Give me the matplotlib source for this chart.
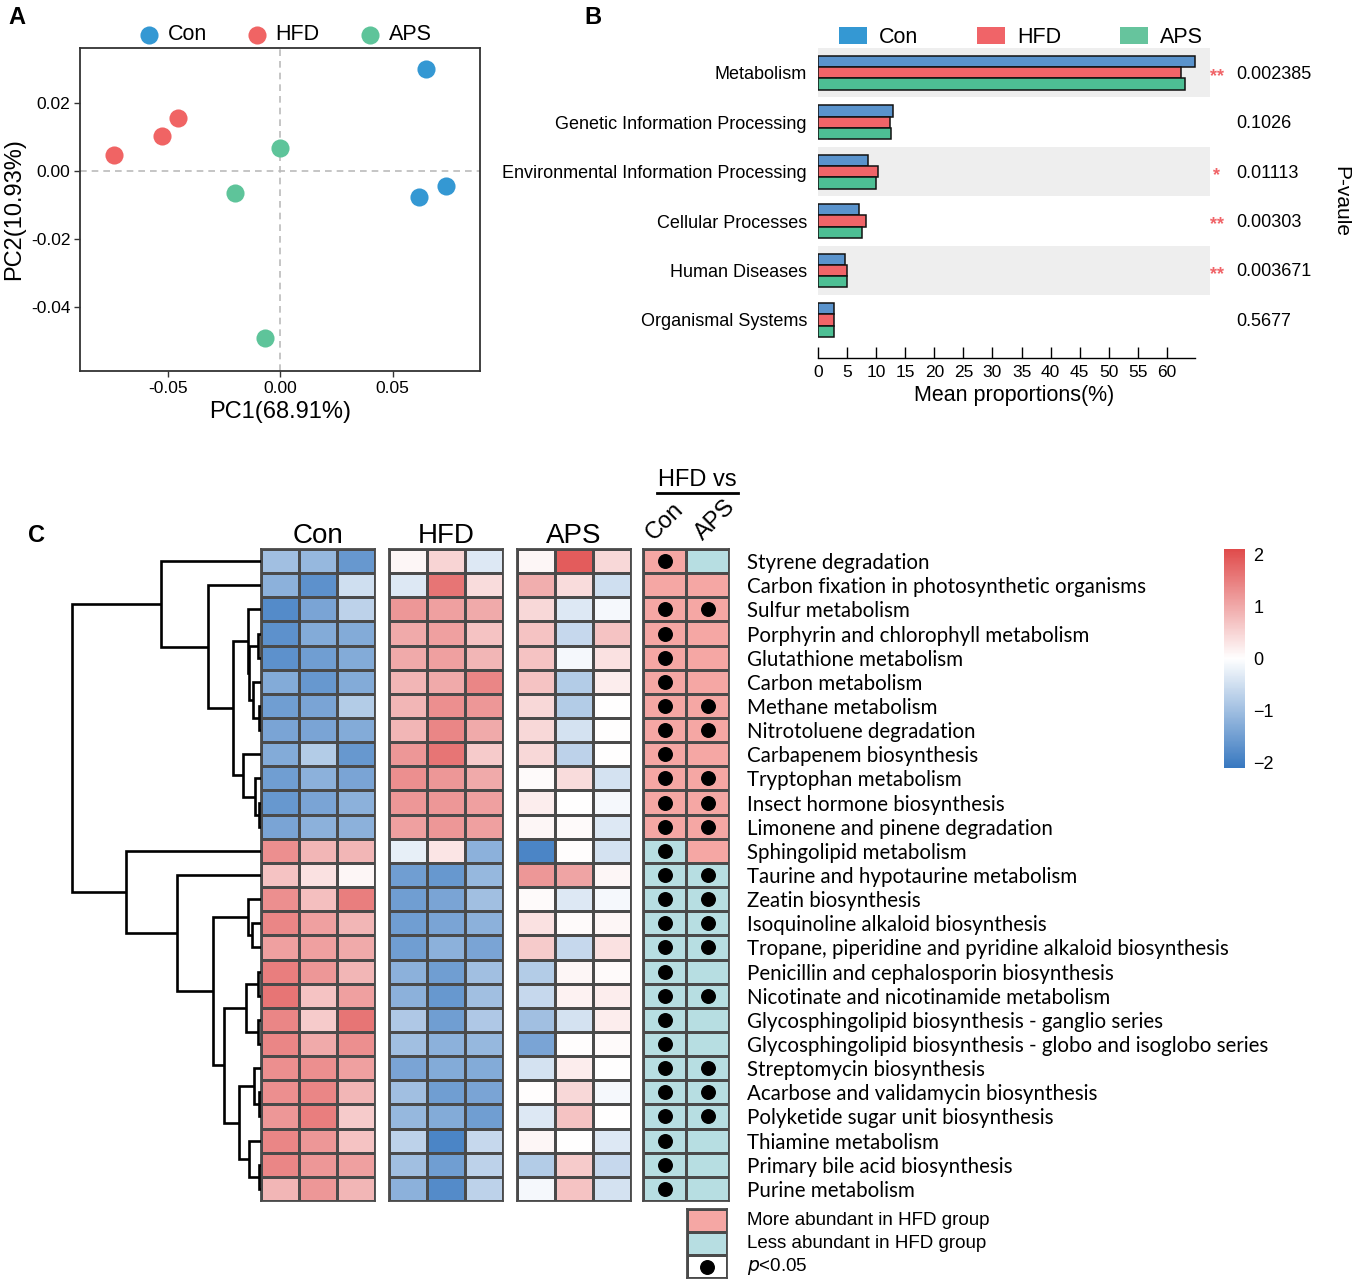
import numpy as np
import matplotlib
matplotlib.use('Agg')
import matplotlib.pyplot as plt
from matplotlib.colors import LinearSegmentedColormap, ListedColormap, Normalize
from matplotlib.cm import ScalarMappable
from matplotlib.patches import Patch

plt.rcParams['font.family'] = ['Liberation Sans', 'DejaVu Sans']

# ---------------- data: panel A (PCA) ----------------
pca_groups = ['Con', 'HFD', 'APS']
pca_colors = ['#3498D3', '#F06464', '#5EC49A']
pc1 = {'Con': [0.0649, 0.0618, 0.0738],
       'HFD': [-0.0738, -0.0524, -0.0453],
       'APS': [0.0000, -0.0200, -0.0067]}
pc2 = {'Con': [0.0300, -0.0076, -0.0044],
       'HFD': [0.0047, 0.0103, 0.0156],
       'APS': [0.0068, -0.0065, -0.0491]}

# ---------------- data: panel B (KEGG level 1) ----------------
kegg_l1 = ['Metabolism', 'Genetic Information Processing',
           'Environmental Information Processing', 'Cellular Processes',
           'Human Diseases', 'Organismal Systems']
mean_con = [64.8, 12.9, 8.6, 7.0, 4.6, 2.7]
mean_hfd = [62.4, 12.4, 10.3, 8.3, 5.0, 2.7]
mean_aps = [63.1, 12.5, 10.0, 7.6, 5.0, 2.7]
p_values = ['0.002385', '0.1026', '0.01113', '0.00303', '0.003671', '0.5677']
p_stars = ['**', '', '*', '**', '**', '']

# ---------------- data: panel C (heatmap) ----------------
pathways = [
    'Styrene degradation',
    'Carbon fixation in photosynthetic organisms',
    'Sulfur metabolism',
    'Porphyrin and chlorophyll metabolism',
    'Glutathione metabolism',
    'Carbon metabolism',
    'Methane metabolism',
    'Nitrotoluene degradation',
    'Carbapenem biosynthesis',
    'Tryptophan metabolism',
    'Insect hormone biosynthesis',
    'Limonene and pinene degradation',
    'Sphingolipid metabolism',
    'Taurine and hypotaurine metabolism',
    'Zeatin biosynthesis',
    'Isoquinoline alkaloid biosynthesis',
    'Tropane, piperidine and pyridine alkaloid biosynthesis',
    'Penicillin and cephalosporin biosynthesis',
    'Nicotinate and nicotinamide metabolism',
    'Glycosphingolipid biosynthesis - ganglio series',
    'Glycosphingolipid biosynthesis - globo and isoglobo series',
    'Streptomycin biosynthesis',
    'Acarbose and validamycin biosynthesis',
    'Polyketide sugar unit biosynthesis',
    'Thiamine metabolism',
    'Primary bile acid biosynthesis',
    'Purine metabolism',
]

z_con = [
    [-1.0, -1.1, -1.6], [-1.2, -1.7, -0.5], [-1.8, -1.4, -0.7], [-1.7, -1.3, -1.3],
    [-1.7, -1.5, -1.3], [-1.3, -1.6, -1.3], [-1.5, -1.4, -0.8], [-1.4, -1.4, -1.3],
    [-1.3, -0.8, -1.6], [-1.5, -1.2, -1.4], [-1.6, -1.4, -1.2], [-1.4, -1.2, -1.2],
    [1.3, 0.85, 0.85], [0.7, 0.35, 0.1], [1.3, 0.75, 1.5], [1.4, 1.1, 0.85],
    [1.1, 1.1, 1.0], [1.5, 1.2, 0.85], [1.6, 0.7, 1.1], [1.4, 0.6, 1.6],
    [1.4, 1.0, 1.3], [1.3, 1.3, 1.1], [1.3, 1.4, 0.85], [1.2, 1.5, 0.6],
    [1.4, 1.2, 0.7], [1.4, 1.2, 1.1], [0.85, 1.2, 0.85],
]
z_hfd = [
    [0.1, 0.5, -0.35], [-0.35, 1.6, 0.4], [1.2, 1.1, 1.0], [1.0, 1.1, 0.7],
    [1.0, 1.1, 0.85], [0.85, 1.0, 1.4], [0.85, 1.3, 1.2], [0.85, 1.4, 1.0],
    [1.2, 1.6, 0.6], [1.3, 1.2, 1.0], [1.2, 1.2, 1.1], [1.1, 1.2, 1.1],
    [-0.25, 0.3, -1.2], [-1.5, -1.6, -1.1], [-1.5, -1.4, -1.0], [-1.5, -1.4, -1.2],
    [-1.5, -1.2, -1.4], [-1.2, -1.5, -1.0], [-1.2, -1.6, -1.0], [-0.85, -1.5, -0.85],
    [-1.0, -1.2, -1.1], [-1.4, -1.3, -1.3], [-1.0, -1.5, -1.4], [-1.1, -1.3, -1.5],
    [-0.7, -1.9, -0.6], [-1.0, -1.5, -0.7], [-1.2, -1.8, -0.7],
]
z_aps = [
    [0.1, 1.9, 0.45], [0.95, 0.4, -0.5], [0.45, -0.35, -0.1], [0.7, -0.6, 0.7],
    [0.7, -0.1, 0.35], [0.7, -0.8, 0.2], [0.45, -0.8, 0.0], [0.45, -0.45, 0.0],
    [0.45, -0.7, 0.0], [0.05, 0.4, -0.45], [0.2, 0.0, -0.1], [0.1, 0.05, -0.35],
    [-1.9, 0.02, -0.45], [1.2, 1.05, 0.1], [0.05, -0.35, -0.1], [0.35, 0.05, 0.1],
    [0.6, -0.6, 0.35], [-0.8, 0.1, 0.05], [-0.6, 0.15, 0.2], [-1.0, -0.45, 0.2],
    [-1.4, 0.02, 0.05], [-0.45, 0.2, 0.0], [0.02, 0.45, -0.1], [-0.35, 0.7, 0.0],
    [0.1, 0.0, -0.35], [-0.8, 0.6, -0.6], [-0.1, 0.7, -0.45],
]

# HFD vs Con / HFD vs APS: 1 = more abundant in HFD, 0 = less abundant
up_vs_con = [1] * 12 + [0] * 15
up_vs_aps = [0] + [1] * 12 + [0] * 14
sig_vs_con = [1, 0] + [1] * 25
sig_vs_aps = [0, 0, 1, 0, 0, 0, 1, 1, 0, 1, 1, 1, 0, 1, 1, 1, 1, 0, 1, 0, 0, 1, 1, 1, 0, 0, 0]

# row dendrogram as linkage: (child_a, child_b, height); ids >= 27 are earlier merges
row_links = [
    (3, 4, 0.014), (6, 7, 0.012), (5, 28, 0.044), (27, 29, 0.062), (2, 30, 0.070),
    (10, 11, 0.011), (9, 32, 0.032), (8, 33, 0.097), (31, 34, 0.150), (1, 35, 0.282),
    (0, 36, 0.529),
    (15, 16, 0.046), (14, 38, 0.070), (17, 18, 0.016), (19, 20, 0.017), (40, 41, 0.079),
    (22, 23, 0.013), (21, 43, 0.037), (25, 26, 0.011), (24, 45, 0.065), (44, 46, 0.118),
    (42, 47, 0.196), (39, 48, 0.252), (13, 49, 0.446), (12, 50, 0.716),
    (37, 51, 1.0),
]

W, H = 1352, 1281
fig = plt.figure(figsize=(W / 100, H / 100), dpi=100)


def px_axes(x0, y0, x1, y1):
    return fig.add_axes([x0 / W, 1 - y1 / H, (x1 - x0) / W, (y1 - y0) / H])


# ================= Panel A =================
axA = px_axes(80, 48, 480, 371)
for g, c in zip(pca_groups, pca_colors):
    axA.scatter(pc1[g], pc2[g], s=170, color=c, label=g, zorder=3, linewidths=0)
axA.axhline(0, color='#bbbbbb', ls=(0, (4, 3)), lw=1.2, zorder=1)
axA.axvline(0, color='#bbbbbb', ls=(0, (4, 3)), lw=1.2, zorder=1)
axA.set_xlim(-0.0891, 0.0889)
axA.set_ylim(-0.0588, 0.0362)
axA.set_xticks([-0.05, 0.0, 0.05])
axA.set_xticklabels(['-0.05', '0.00', '0.05'])
axA.set_yticks([0.02, 0.0, -0.02, -0.04])
axA.set_yticklabels(['0.02', '0.00', '-0.02', '-0.04'])
axA.tick_params(labelsize=12.5, length=4, width=1, color='#333333', pad=3)
for sp in axA.spines.values():
    sp.set_linewidth(1.3)
    sp.set_color('#333333')
axA.set_xlabel('PC1(68.91%)', fontsize=17, labelpad=4)
axA.set_ylabel('PC2(10.93%)', fontsize=17, labelpad=4)
axA.legend(loc='lower center', bbox_to_anchor=(0.51, 0.975), ncol=3, frameon=False,
           fontsize=15.5, handlelength=1.2, handletextpad=0.25, columnspacing=1.75,
           borderaxespad=0.1)

# ================= Panel B =================
axB = px_axes(818, 48, 1210, 358)
rows = np.arange(len(kegg_l1))
bh = 0.229
bar_cols = ['#5A93CC', '#F06468', '#4DBF94']
for r in rows[::2]:
    axB.axhspan(r - 0.5, r + 0.5, color='#EEEEEE', zorder=0, lw=0)
for k, (vals, col) in enumerate(zip([mean_con, mean_hfd, mean_aps], bar_cols)):
    axB.barh(rows + (k - 1) * bh, vals, height=bh, color=col, edgecolor='#111111',
             linewidth=1.1, zorder=2)
axB.set_xlim(0, 67.4)
axB.set_ylim(5.77, -0.5)
axB.set_yticks(rows)
axB.set_yticklabels(kegg_l1, fontsize=13)
axB.set_xticks(np.arange(0, 61, 5))
axB.tick_params(axis='y', length=0, pad=8)
axB.tick_params(axis='x', direction='in', length=8, width=1, labelsize=12.5, pad=5)
for s in ['left', 'top', 'right']:
    axB.spines[s].set_visible(False)
axB.spines['bottom'].set_bounds(0, 64.8)
axB.spines['bottom'].set_linewidth(1)
axB.set_xlabel('Mean proportions(%)', fontsize=15.5, labelpad=4)
ytr = axB.get_yaxis_transform()
for r, (pv, st) in enumerate(zip(p_values, p_stars)):
    axB.text(1.066, r + 0.03, pv, transform=ytr, fontsize=13, va='center', ha='left')
    if st:
        axB.text(1.017, r + 0.08, st, transform=ytr, fontsize=13, va='center', ha='center',
                 color='#F06468', fontweight='bold')
axB.text(1.333, 2.6, 'P-vaule', transform=ytr, fontsize=15, rotation=-90,
         va='center', ha='center')
leg_cols = ['#3498D3', '#F06468', '#66C49D']
handles = [Patch(facecolor=c, edgecolor='none') for c in leg_cols]
axB.legend(handles, pca_groups, loc='lower center', bbox_to_anchor=(0.518, 0.965), ncol=3,
           frameon=False, fontsize=15.5, handlelength=1.3, handleheight=0.85,
           handletextpad=0.55, columnspacing=2.75, borderaxespad=0.1)

# ================= Panel C =================
n = len(pathways)
cmap = LinearSegmentedColormap.from_list('rb', ['#3878C0', '#FFFFFF', '#E04B4B'])
norm = Normalize(-2.1, 2.1)
edge = '#4a4a4a'

blocks = [(z_con, 'Con', 261, 375), (z_hfd, 'HFD', 389, 503), (z_aps, 'APS', 517, 631)]
for vals, name, x0, x1 in blocks:
    ax = px_axes(x0, 549, x1, 1201)
    ax.pcolormesh(np.array(vals), cmap=cmap, norm=norm, edgecolors=edge, linewidth=1.0)
    ax.set_ylim(n, 0)
    ax.set_xticks([])
    ax.set_yticks([])
    for sp in ax.spines.values():
        sp.set_color(edge)
        sp.set_linewidth(1.3)
    ax.set_title(name, fontsize=20, pad=2)

# comparison block
axV = px_axes(643, 549, 729, 1201)
vs_cmap = ListedColormap(['#B7DEE2', '#F5A7A4'])
axV.pcolormesh(np.column_stack([up_vs_con, up_vs_aps]), cmap=vs_cmap, vmin=0, vmax=1,
               edgecolors=edge, linewidth=1.0)
for j, sig in enumerate([sig_vs_con, sig_vs_aps]):
    idx = np.nonzero(sig)[0]
    axV.scatter(np.full(len(idx), j + 0.5), idx + 0.5, s=95, color='black', zorder=3)
axV.set_ylim(n, 0)
axV.set_xlim(0, 2)
axV.set_xticks([])
axV.yaxis.tick_right()
axV.set_yticks(np.arange(n) + 0.5)
axV.set_yticklabels(pathways, family=['Lato', 'DejaVu Sans'], fontsize=14.8)
axV.tick_params(axis='y', length=0, pad=13)
for sp in axV.spines.values():
    sp.set_color(edge)
    sp.set_linewidth(1.3)
axV.text(0.5, -0.2, 'Con', rotation=45, fontsize=17, ha='center', va='bottom')
axV.text(1.68, -0.2, 'APS', rotation=45, fontsize=17, ha='center', va='bottom')
axV.text(1.27, -2.42, 'HFD vs', fontsize=17, ha='center', va='bottom')
axV.plot([0.33, 2.2], [-2.32, -2.32], color='black', lw=2, clip_on=False)

# dendrogram
axD = px_axes(60, 549, 261, 1201)
pos = {i: (i + 0.5, 0.0) for i in range(n)}
for k, (a, b, h) in enumerate(row_links):
    ya, ha = pos[a]
    yb, hb = pos[b]
    axD.plot([ha, h, h, hb], [ya, ya, yb, yb], color='black', lw=1.9,
             solid_joinstyle='miter', solid_capstyle='butt')
    pos[n + k] = ((ya + yb) / 2, h)
axD.set_xlim(1.065, 0)
axD.set_ylim(n, 0)
axD.axis('off')

# colour bar
axCB = px_axes(1224, 549, 1245, 768)
cb = fig.colorbar(ScalarMappable(norm=norm, cmap=cmap), cax=axCB, ticks=[2, 1, 0, -1, -2])
cb.outline.set_visible(False)
cb.ax.set_yticklabels(['2', '1', '0', '\u22121', '\u22122'])
cb.ax.tick_params(length=0, labelsize=13, pad=6)

# bottom legend
axL = px_axes(687, 1209, 727, 1278)
axL.pcolormesh(np.array([[0], [1], [2]]), cmap=ListedColormap(['#F5A7A4', '#B7DEE2', '#FFFFFF']),
               vmin=0, vmax=2, edgecolors=edge, linewidth=1.0)
axL.scatter([0.5], [2.5], s=95, color='black')
axL.set_ylim(3, 0)
axL.set_xticks([])
axL.set_yticks([])
for sp in axL.spines.values():
    sp.set_color(edge)
    sp.set_linewidth(1.3)
leg_txt = ['More abundant in HFD group', 'Less abundant in HFD group', '$\\it{p}$<0.05']
for i, t in enumerate(leg_txt):
    axL.text(1.5, i + 0.5, t, fontsize=13.5, va='center', ha='left')

# panel letters
fig.text(8 / W, 1 - 18 / H, 'A', fontsize=17, fontweight='bold', va='center')
fig.text(584 / W, 1 - 18 / H, 'B', fontsize=17, fontweight='bold', va='center')
fig.text(28 / W, 1 - 535 / H, 'C', fontsize=17, fontweight='bold', va='center')

fig.savefig('out.png', dpi=100)
